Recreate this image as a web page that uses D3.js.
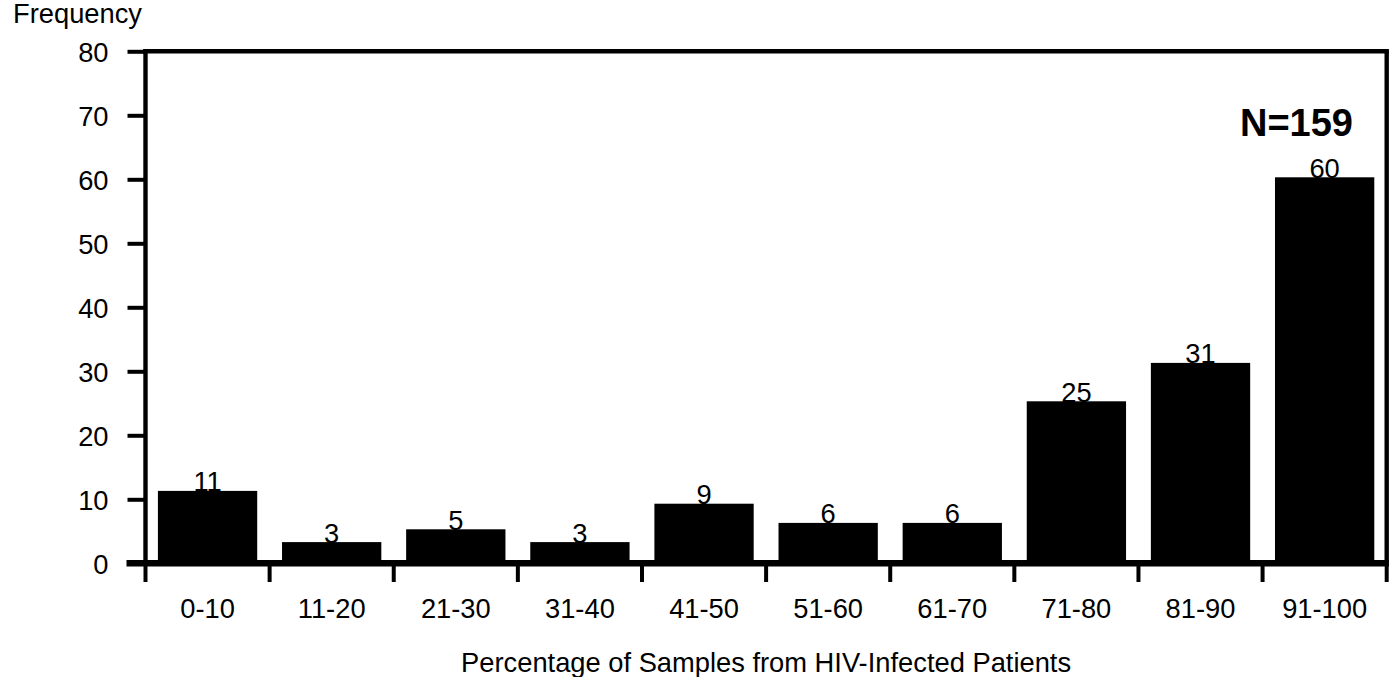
<!DOCTYPE html>
<html>
<head>
<meta charset="utf-8">
<script src="https://cdn.jsdelivr.net/npm/d3@7"></script>
<style>
  html, body { margin: 0; padding: 0; background: #fff; }
  svg { display: block; font-family: "Liberation Sans", Arial, Helvetica, sans-serif; }
</style>
</head>
<body>
<svg id="chart" width="1399" height="677"></svg>
<script>
const categories = ["0-10","11-20","21-30","31-40","41-50","51-60","61-70","71-80","81-90","91-100"];
const values = [11, 3, 5, 3, 9, 6, 6, 25, 31, 60];
const yTicks = [0, 10, 20, 30, 40, 50, 60, 70, 80];
const yLabel = "Frequency";
const xLabel = "Percentage of Samples from HIV-Infected Patients";
const annotation = "N=159";

const svg = d3.select("#chart");
const plotL = 145.5, plotR = 1386.7, plotT = 51.3, plotB = 563.3;
const fs = 27.3;

const x = d3.scaleBand().domain(categories).range([plotL, plotR]).paddingInner(0.2).paddingOuter(0.1);
const y = d3.scaleLinear().domain([0, 80]).range([plotB, plotT]);

const lw = 4.4;

// bars
svg.append("g").selectAll("rect").data(values).join("rect")
  .attr("x", (d, i) => x(categories[i]) + 2)
  .attr("width", x.bandwidth() - 4)
  .attr("y", d => y(d))
  .attr("height", d => y(0) - y(d))
  .attr("fill", "#000")
  .attr("stroke", "#000")
  .attr("stroke-width", 4);

// value labels
svg.append("g").selectAll("text").data(values).join("text")
  .attr("x", (d, i) => x(categories[i]) + x.bandwidth() / 2)
  .attr("y", d => y(d) - 1.5)
  .attr("text-anchor", "middle")
  .attr("font-size", fs)
  .attr("fill", "#000")
  .text(d => d);

// frame: top and right
svg.append("line").attr("x1", plotL - lw/2).attr("x2", plotR + lw/2).attr("y1", plotT).attr("y2", plotT)
  .attr("stroke", "#000").attr("stroke-width", lw);
svg.append("line").attr("x1", plotR).attr("x2", plotR).attr("y1", plotT).attr("y2", plotB)
  .attr("stroke", "#000").attr("stroke-width", lw);

// y axis
const yAxis = svg.append("g").attr("transform", `translate(${plotL},0)`)
  .call(d3.axisLeft(y).tickValues(yTicks).tickSize(18).tickPadding(19).tickSizeOuter(0));
yAxis.select(".domain").attr("stroke-width", lw).attr("d", `M0,${plotT - lw/2}V${plotB}`);
yAxis.selectAll(".tick line").attr("stroke-width", 4);
yAxis.selectAll(".tick text").attr("font-size", fs).attr("dy", "0.36em")
  .attr("font-family", "Liberation Sans, Arial, sans-serif").attr("fill", "#000");

// x axis baseline
svg.append("line").attr("x1", plotL - 19).attr("x2", plotR + lw/2).attr("y1", plotB).attr("y2", plotB)
  .attr("stroke", "#000").attr("stroke-width", lw + 2);

// x boundary ticks
const bounds = categories.map(c => x(c) - x.step() * x.paddingInner() / 2);
bounds.push(plotR);
bounds[0] = plotL;
svg.append("g").selectAll("line").data(bounds).join("line")
  .attr("x1", d => d).attr("x2", d => d)
  .attr("y1", plotB).attr("y2", 582)
  .attr("stroke", "#000").attr("stroke-width", 4);

// x tick labels
svg.append("g").selectAll("text").data(categories).join("text")
  .attr("x", d => x(d) + x.bandwidth() / 2)
  .attr("y", 618)
  .attr("text-anchor", "middle")
  .attr("font-size", fs)
  .attr("fill", "#000")
  .text(d => d);

// axis titles
svg.append("text").attr("x", 13).attr("y", 23).attr("font-size", fs).attr("fill", "#000").text(yLabel);
svg.append("text").attr("x", (plotL + plotR) / 2).attr("y", 671.5).attr("text-anchor", "middle")
  .attr("font-size", fs).attr("fill", "#000").text(xLabel);

// annotation
svg.append("text").attr("x", 1353).attr("y", 136).attr("text-anchor", "end")
  .attr("font-size", 38).attr("font-weight", "bold").attr("fill", "#000").text(annotation);
</script>
</body>
</html>
